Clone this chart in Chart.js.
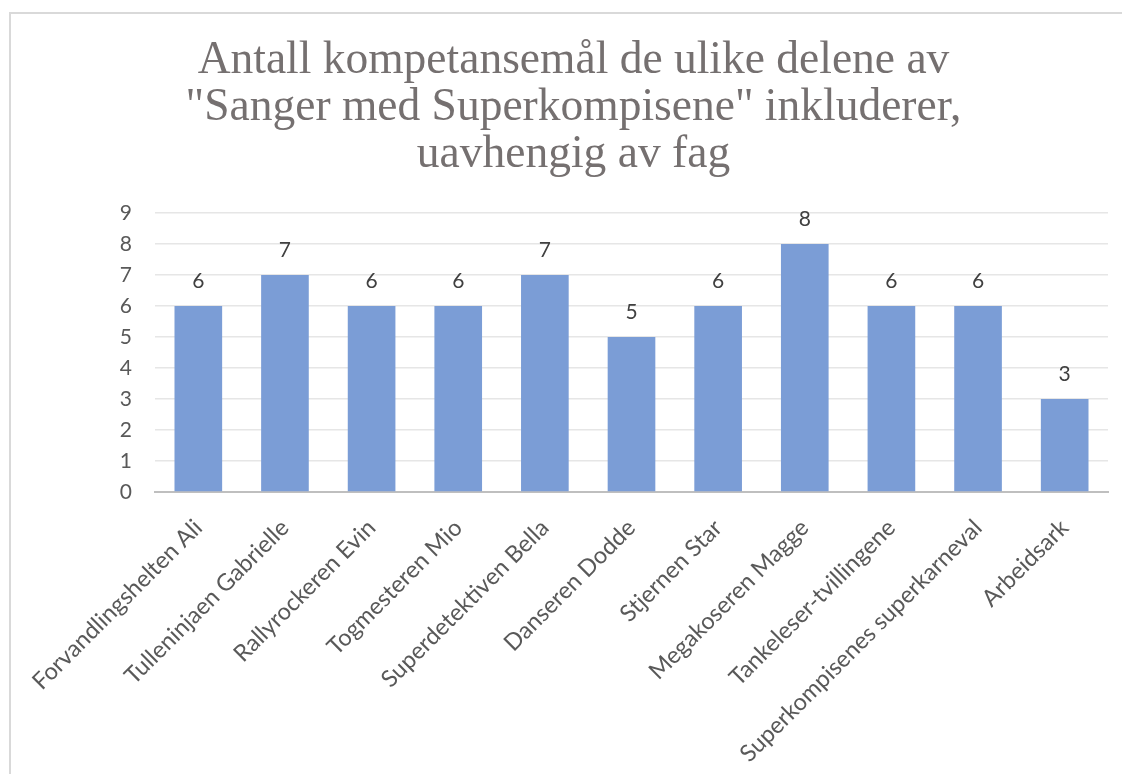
<!DOCTYPE html>
<html>
<head>
<meta charset="utf-8">
<script src="https://cdn.jsdelivr.net/npm/chart.js@4/dist/chart.umd.min.js"></script>
<style>
  html, body { margin: 0; padding: 0; background: #fff; overflow: hidden; }
  #wrap {
    position: absolute; left: 9px; top: 12px;
    width: 1128px; height: 760px;
    border-left: 2px solid #d9d9d9; border-top: 2px solid #d9d9d9;
  }
  #chart { display: block; }
</style>
</head>
<body>
<div id="wrap"><canvas id="chart" width="1128" height="760"></canvas></div>
<script>
// --- data ---
const titleLines = [
  "Antall kompetansemål de ulike delene av",
  "\"Sanger med Superkompisene\" inkluderer,",
  "uavhengig av fag"
];
const categories = [
  "Forvandlingshelten Ali",
  "Tulleninjaen Gabrielle",
  "Rallyrockeren Evin",
  "Togmesteren Mio",
  "Superdetektiven Bella",
  "Danseren Dodde",
  "Stjernen Star",
  "Megakoseren Magge",
  "Tankeleser-tvillingene",
  "Superkompisenes superkarneval",
  "Arbeidsark"
];
const values = [6, 7, 6, 6, 7, 5, 6, 8, 6, 6, 3];
const yTicks = [0, 1, 2, 3, 4, 5, 6, 7, 8, 9];

const labelFont = "Lato, 'Open Sans', sans-serif";

// tall verdier over søylene (ingen datalabels-plugin tilgjengelig)
const valueLabels = {
  id: "valueLabels",
  afterDatasetsDraw(chart) {
    const ctx = chart.ctx;
    const meta = chart.getDatasetMeta(0);
    ctx.save();
    ctx.font = "21px " + labelFont;
    ctx.fillStyle = "#404040";
    ctx.textAlign = "center";
    ctx.textBaseline = "middle";
    meta.data.forEach((bar, i) => {
      ctx.fillText(String(values[i]), bar.x, bar.y - 25);
    });
    ctx.restore();
  }
};

new Chart(document.getElementById("chart"), {
  type: "bar",
  data: {
    labels: categories,
    datasets: [
      {
        data: values,
        backgroundColor: "#7b9dd6",
        borderWidth: 0,
        categoryPercentage: 1,
        barPercentage: 0.55,
      },
    ],
  },
  options: {
    responsive: false,
    animation: false,
    layout: { padding: { top: 0, right: 31, bottom: 0, left: 28 } },
    plugins: {
      legend: { display: false },
      tooltip: { enabled: false },
      title: {
        display: true,
        text: titleLines,
        color: "#757070",
        font: { family: "'Liberation Serif', 'Times New Roman', serif", size: 45.5, weight: "normal", lineHeight: "47px" },
        padding: { top: 24, bottom: 34 },
      },
    },
    scales: {
      x: {
        grid: { display: false, drawTicks: false },
        border: { display: true, color: "#bfbfbf", width: 2 },
        ticks: {
          color: "#595959",
          font: { family: labelFont, size: 23.5 },
          minRotation: 45,
          maxRotation: 45,
          autoSkip: false,
          padding: 22,
        },
        afterFit(scale) {
          scale.height = 282;
          scale.paddingLeft = 0;
          scale.paddingRight = 0;
        },
      },
      y: {
        min: 0,
        max: 9,
        afterBuildTicks(scale) { scale.ticks = yTicks.map((v) => ({ value: v })); },
        grid: { color: "#e6e6e6", lineWidth: 1.5, drawTicks: false },
        border: { display: false },
        ticks: {
          color: "#595959",
          font: { family: labelFont, size: 21 },
          padding: 23,
        },
        afterFit(scale) { scale.width = 116; },
      },
    },
  },
  plugins: [valueLabels],
});
</script>
</body>
</html>
